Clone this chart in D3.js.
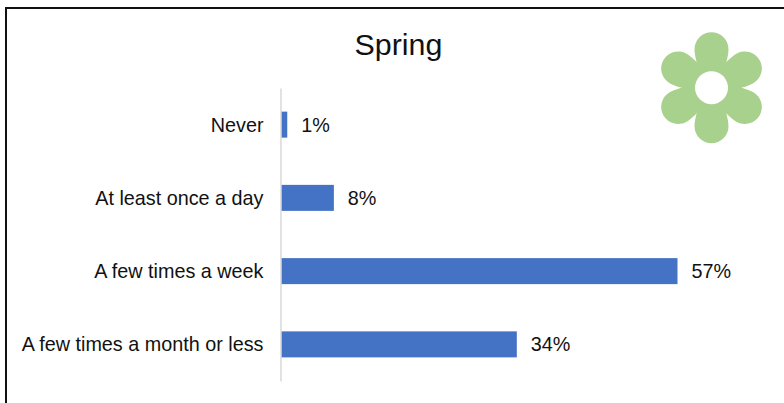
<!DOCTYPE html>
<html><head><meta charset="utf-8">
<script src="https://cdn.jsdelivr.net/npm/d3@7"></script>
<style>html,body{margin:0;padding:0;background:#fff;overflow:hidden}svg{display:block}text{font-family:"Liberation Sans",Arial,sans-serif;fill:#111}</style>
</head><body><svg id="c" width="784" height="403"></svg>
<script>
const categories = ["Never","At least once a day","A few times a week","A few times a month or less"];
const values = [0.9,7.6,57,33.9];
const valueLabels = ["1%","8%","57%","34%"];
const title = "Spring";
const svg = d3.select("#c");
const x = d3.scaleLinear().domain([0,57]).range([281,677.5]);
const y = d3.scaleBand().domain(categories).range([88,381]).paddingInner(0.645).paddingOuter(0.3225);
// frame
svg.append("path").attr("d","M6,403V8H784").attr("fill","none").attr("stroke","#111").attr("stroke-width",2);
svg.append("text").attr("x",398.5).attr("y",55).attr("text-anchor","middle").attr("font-size",30.4).text(title);
// bars
svg.selectAll("rect.b").data(values).join("rect").attr("class","b")
  .attr("x",x(0)).attr("y",(d,i)=>y(categories[i])).attr("width",d=>x(d)-x(0)).attr("height",y.bandwidth()).attr("fill","#4472c4");
// axis
const axis = d3.axisLeft(y).tickSize(0).tickPadding(17);
const g = svg.append("g").attr("transform",`translate(${x(0)-0.5},0)`).call(axis);
g.select(".domain").attr("stroke","#d9d9d9").attr("stroke-width",1.5);
g.selectAll("text").attr("font-size",19.8).attr("font-family",null).attr("dy","0.35em");
// labels
svg.selectAll("text.v").data(values).join("text").attr("class","v")
  .attr("x",d=>x(d)+14).attr("y",(d,i)=>y(categories[i])+y.bandwidth()/2).attr("dy","0.35em")
  .attr("font-size",19.8).text((d,i)=>valueLabels[i]);
// flower decoration
const f = svg.append("g").attr("transform","translate(711.5,87.7)");
d3.range(6).forEach(i=>{
  f.append("path").attr("transform",`rotate(${i*60})`)
   .attr("d","M-13,-16C-14,-25 -17,-31 -17,-38.5A17,17 0 0 1 17,-38.5C17,-31 14,-25 13,-16Z").attr("fill","#a9d18e");
});
f.append("circle").attr("r",26).attr("fill","#a9d18e");
f.append("circle").attr("r",16.5).attr("fill","#fff");
</script></body></html>
